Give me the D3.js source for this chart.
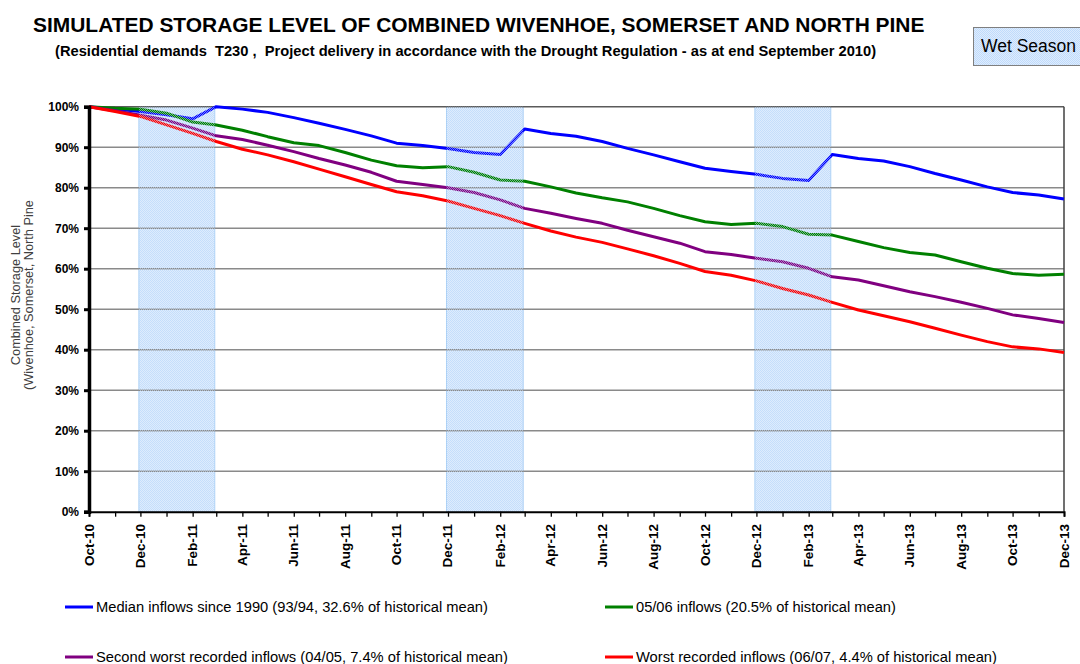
<!DOCTYPE html>
<html>
<head>
<meta charset="utf-8">
<script src="https://cdn.jsdelivr.net/npm/d3@7"></script>
<style>
  html, body { margin: 0; padding: 0; background: #fff; }
  svg { display: block; font-family: Arial, "Liberation Sans", sans-serif; }
  .pre { white-space: pre; }
</style>
</head>
<body>
<svg id="chart" width="1080" height="664"></svg>
<script>
// ---------------- DATA ----------------
const startMonth = "2010-10-01";
const endMonth = "2013-12-01";
const yTicks = [0, 10, 20, 30, 40, 50, 60, 70, 80, 90, 100];

const medianInflows = [100, 99.4, 98.8, 98.0, 97.0, 100, 99.4, 98.6, 97.3, 95.9, 94.4, 92.8, 91.0, 90.4, 89.7, 88.7, 88.2, 94.5, 93.4, 92.7, 91.4, 89.7, 88.1, 86.4, 84.8, 84.0, 83.3, 82.3, 81.8, 88.2, 87.2, 86.6, 85.2, 83.5, 81.9, 80.2, 78.8, 78.2, 77.2];
const inflows0506 = [100, 99.6, 99.4, 98.4, 96.2, 95.5, 94.2, 92.6, 91.1, 90.4, 88.7, 86.8, 85.4, 84.9, 85.2, 83.8, 81.9, 81.6, 80.2, 78.7, 77.5, 76.5, 74.9, 73.1, 71.6, 70.9, 71.2, 70.4, 68.5, 68.3, 66.7, 65.2, 64.0, 63.4, 61.7, 60.1, 58.8, 58.4, 58.6];
const secondWorst = [100, 99.0, 97.9, 96.7, 94.7, 92.8, 91.9, 90.5, 88.9, 87.2, 85.6, 83.8, 81.6, 80.8, 80.0, 78.8, 77.0, 74.9, 73.7, 72.4, 71.2, 69.5, 67.9, 66.3, 64.2, 63.5, 62.6, 61.7, 60.1, 58.0, 57.2, 55.8, 54.3, 53.1, 51.7, 50.2, 48.6, 47.7, 46.7];
const worstRecorded = [100, 98.8, 97.6, 95.5, 93.4, 91.4, 89.5, 88.1, 86.4, 84.6, 82.7, 80.8, 79.0, 78.0, 76.7, 74.9, 73.1, 71.2, 69.3, 67.8, 66.5, 64.9, 63.2, 61.3, 59.3, 58.4, 57.0, 55.1, 53.5, 51.7, 49.8, 48.4, 46.9, 45.3, 43.6, 42.0, 40.7, 40.2, 39.3];

const seriesNames = [
  "Median inflows since 1990 (93/94, 32.6% of historical mean)",
  "05/06 inflows (20.5% of historical mean)",
  "Second worst recorded inflows (04/05, 7.4% of historical mean)",
  "Worst recorded inflows (06/07, 4.4% of historical mean)"
];
const seriesColors = ["#0000ff", "#008000", "#800080", "#ff0000"];

const wetSeasonStarts = ["2010-12-01", "2011-12-01", "2012-12-01"];
const wetSeasonEnds   = ["2011-03-01", "2012-03-01", "2013-03-01"];

const titleText = "SIMULATED STORAGE LEVEL OF COMBINED WIVENHOE, SOMERSET AND NORTH PINE";
const subtitleText = "(Residential demands  T230 ,  Project delivery in accordance with the Drought Regulation - as at end September 2010)";
const yTitleLines = ["Combined Storage Level", "(Wivenhoe, Somerset, North Pine"];
const wetSeasonLabel = "Wet Season";

// ---------------- SETUP ----------------
const parse = d3.timeParse("%Y-%m-%d");
const months = d3.timeMonth.range(parse(startMonth), d3.timeMonth.offset(parse(endMonth), 1));
const allSeries = [medianInflows, inflows0506, secondWorst, worstRecorded];

const svg = d3.select("#chart");
const m = { left: 89, right: 1064, top: 106.7, bottom: 511.7 };

const x = d3.scaleTime().domain([parse(startMonth), parse(endMonth)]).range([m.left, m.right]);
const y = d3.scaleLinear().domain([0, 100]).range([m.bottom, m.top]);

function fit(sel, width) {
  const node = sel.node();
  const w = node.getComputedTextLength();
  const fs = parseFloat(sel.attr("font-size"));
  sel.attr("font-size", (fs * width / w).toFixed(2));
}

// patterns for wet season shading
const defs = svg.append("defs");
const pat = defs.append("pattern").attr("id", "wet").attr("patternUnits", "userSpaceOnUse")
  .attr("width", 2).attr("height", 2);
pat.append("rect").attr("width", 2).attr("height", 2).attr("fill", "#deecfd");
pat.append("rect").attr("x", 0).attr("y", 0).attr("width", 1).attr("height", 1).attr("fill", "#c0dbfb");
pat.append("rect").attr("x", 1).attr("y", 1).attr("width", 1).attr("height", 1).attr("fill", "#c0dbfb");

const pat2 = defs.append("pattern").attr("id", "wetOver").attr("patternUnits", "userSpaceOnUse")
  .attr("width", 2).attr("height", 2);
pat2.append("rect").attr("x", 0).attr("y", 0).attr("width", 1).attr("height", 1).attr("fill", "rgba(200,224,252,0.55)");
pat2.append("rect").attr("x", 1).attr("y", 1).attr("width", 1).attr("height", 1).attr("fill", "rgba(200,224,252,0.55)");

// ---------------- TITLES ----------------
const t1 = svg.append("text").attr("x", 33).attr("y", 32).attr("font-size", 21)
  .attr("font-weight", "bold").attr("fill", "#000").text(titleText);
fit(t1, 892);
const t2 = svg.append("text").attr("class", "pre").attr("x", 55).attr("y", 56).attr("font-size", 14)
  .attr("font-weight", "bold").attr("fill", "#000").text(subtitleText);
fit(t2, 821);

// Wet Season box
svg.append("rect").attr("x", 973.5).attr("y", 27.5).attr("width", 120).attr("height", 38)
  .attr("fill", "url(#wet)").attr("stroke", "#7f7f7f").attr("stroke-width", 1);
const wl = svg.append("text").attr("x", 981).attr("y", 52).attr("font-size", 17)
  .attr("fill", "#000").text(wetSeasonLabel);
fit(wl, 95);

// ---------------- WET SEASON SHADING (below) ----------------
const shadeX = d => x(parse(d)) - 1.5;
const shadeW = (d, i) => x(parse(wetSeasonEnds[i])) - x(parse(d));
svg.append("g").selectAll("rect").data(wetSeasonStarts).join("rect")
  .attr("x", shadeX).attr("y", m.top)
  .attr("width", shadeW).attr("height", m.bottom - m.top)
  .attr("fill", "url(#wet)")
  .attr("stroke", "#a9cff5").attr("stroke-width", 1);

// ---------------- GRID ----------------
svg.append("g").selectAll("line").data(yTicks.filter(d => d > 0)).join("line")
  .attr("x1", m.left).attr("x2", m.right)
  .attr("y1", d => y(d)).attr("y2", d => y(d))
  .attr("stroke", d => d === 100 ? "#5a5a5a" : "#8a8a8a").attr("stroke-width", 1.6);

// right border
svg.append("line").attr("x1", m.right).attr("x2", m.right).attr("y1", m.top).attr("y2", m.bottom)
  .attr("stroke", "#404040").attr("stroke-width", 1.5);

// ---------------- LINES ----------------
const line = d3.line().x((d, i) => x(months[i])).y(d => y(d));
svg.append("g").selectAll("path").data(allSeries).join("path")
  .attr("d", d => line(d))
  .attr("fill", "none")
  .attr("stroke", (d, i) => seriesColors[i])
  .attr("stroke-width", 3)
  .attr("stroke-linejoin", "round");

// light texture over the lines inside the wet season bands
svg.append("g").selectAll("rect").data(wetSeasonStarts).join("rect")
  .attr("x", shadeX).attr("y", m.top)
  .attr("width", shadeW).attr("height", m.bottom - m.top)
  .attr("fill", "url(#wetOver)");

// ---------------- AXES ----------------
const xAxis = d3.axisBottom(x).ticks(d3.timeMonth.every(1)).tickSize(5).tickFormat(() => "");
const gx = svg.append("g").attr("transform", `translate(0,${m.bottom})`).call(xAxis);
gx.select(".domain").attr("stroke", "#000").attr("stroke-width", 2);
gx.selectAll(".tick line").attr("stroke", "#000").attr("stroke-width", 1.3);

const labelMonths = months.filter((d, i) => i % 2 === 0);
svg.append("g").selectAll("text").data(labelMonths).join("text")
  .attr("transform", d => `translate(${x(d) + 4.5},524) rotate(-90)`)
  .attr("text-anchor", "end")
  .attr("font-size", 13.5).attr("font-weight", "bold").attr("fill", "#000")
  .text(d => d3.timeFormat("%b-%y")(d));

const yAxis = d3.axisLeft(y).tickValues(yTicks).tickSize(5).tickFormat(d => d + "%");
const gy = svg.append("g").attr("transform", `translate(${m.left},0)`).call(yAxis);
gy.select(".domain").attr("stroke", "#000").attr("stroke-width", 3.5);
gy.selectAll(".tick line").attr("stroke", "#000").attr("stroke-width", 3);
gy.selectAll(".tick text").attr("x", -10).attr("font-size", 12).attr("font-weight", "bold")
  .attr("font-family", "Arial, 'Liberation Sans', sans-serif").attr("fill", "#000");

// y title
const yt = svg.append("g").attr("transform", "translate(0,295) rotate(-90)");
const yt1 = yt.append("text").attr("x", 0).attr("y", 20).attr("text-anchor", "middle")
  .attr("font-size", 12).attr("fill", "#404040").text(yTitleLines[0]);
const yt2 = yt.append("text").attr("x", 0).attr("y", 33).attr("text-anchor", "middle")
  .attr("font-size", 12).attr("fill", "#404040").text(yTitleLines[1]);
fit(yt2, 190);
yt1.attr("font-size", yt2.attr("font-size"));

// ---------------- LEGEND ----------------
const legendPos = [[65, 607], [605, 607], [65, 657], [605, 657]];
const legendWidths = [392, 260, 412, 361];
const lg = svg.append("g");
seriesNames.forEach((name, i) => {
  const [lx, ly] = legendPos[i];
  lg.append("line").attr("x1", lx).attr("x2", lx + 28).attr("y1", ly).attr("y2", ly)
    .attr("stroke", seriesColors[i]).attr("stroke-width", 3);
  const tt = lg.append("text").attr("x", lx + 31).attr("y", ly + 5).attr("font-size", 14)
    .attr("fill", "#000").text(name);
  fit(tt, legendWidths[i]);
});
</script>
</body>
</html>
